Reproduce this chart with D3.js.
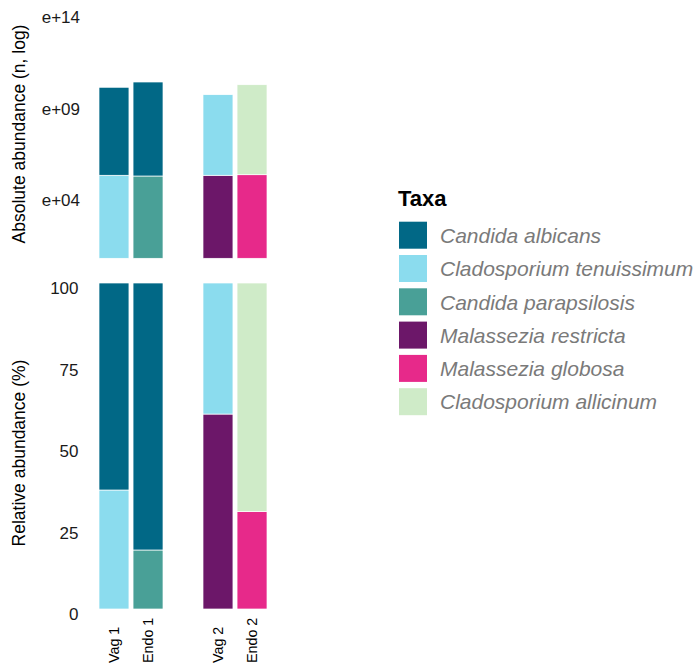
<!DOCTYPE html>
<html>
<head>
<meta charset="utf-8">
<script src="https://cdn.jsdelivr.net/npm/d3@7"></script>
<style>
  html, body { margin: 0; padding: 0; background: #fff; }
  svg { display: block; }
  text { font-family: "Liberation Sans", Arial, Helvetica, sans-serif; }
</style>
</head>
<body>
<svg id="chart" width="700" height="665"></svg>
<script>
// Samples, shown in two facet-like groups
const sampleGroups = [["Vag 1", "Endo 1"], ["Vag 2", "Endo 2"]];
const samples = sampleGroups.flat();

// Taxa in legend order with their fill colours
const taxa = [
  "Candida albicans",
  "Cladosporium tenuissimum",
  "Candida parapsilosis",
  "Malassezia restricta",
  "Malassezia globosa",
  "Cladosporium allicinum"
];
const taxaColors = ["#016886", "#8bdcee", "#49a097", "#6c1769", "#e7298a", "#cfebc8"];

// Two taxa per sample: the lower (stacked first) and the upper one
const lowerTaxon = ["Cladosporium tenuissimum", "Candida parapsilosis", "Malassezia restricta", "Malassezia globosa"];
const upperTaxon = ["Candida albicans", "Candida albicans", "Cladosporium tenuissimum", "Cladosporium allicinum"];

// Absolute abundance (n); stacked on log10 scale
const lowerCount = [3.44e4, 3.14e4, 3.44e4, 3.70e4];
const upperCount = [6.44e4, 1.37e5, 2.54e4, 8.28e4];

// Relative abundance (%)
const lowerPct = [36.5, 18.1, 59.8, 29.9];
const upperPct = [63.5, 81.9, 40.2, 70.1];

// Axis tick values
const absTicks = [4, 9, 14];
const relTicks = [0, 25, 50, 75, 100];

const svg = d3.select("#chart");
const color = d3.scaleOrdinal().domain(taxa).range(taxaColors);

// x positions: one band scale per group
const groupRanges = [[99, 163], [203, 267]];
const groupScales = sampleGroups.map((g, i) =>
  d3.scaleBand().domain(g).range(groupRanges[i]).paddingInner(0.12).paddingOuter(0));
const xPos = s => {
  const sc = groupScales.find(g => g.domain().includes(s));
  return sc(s);
};
const bw = groupScales[0].bandwidth();

// y scales
const yAbs = d3.scaleLinear().domain([0, 14.1]).range([258.3, 258.3 - 14.1 * 18.3]).clamp(true);
const yRel = d3.scaleLinear().domain([0, 100]).range([609, 283]);

// build stacked segments
const absSegs = [], relSegs = [];
samples.forEach((s, i) => {
  const l0 = Math.log10(lowerCount[i]);
  const l1 = Math.log10(upperCount[i]);
  absSegs.push({ sample: s, taxon: lowerTaxon[i], y0: 0, y1: l0 });
  absSegs.push({ sample: s, taxon: upperTaxon[i], y0: l0, y1: l0 + l1 });
  relSegs.push({ sample: s, taxon: lowerTaxon[i], y0: 0, y1: lowerPct[i] });
  relSegs.push({ sample: s, taxon: upperTaxon[i], y0: lowerPct[i], y1: lowerPct[i] + upperPct[i] });
});

function drawBars(segs, y) {
  svg.append("g").selectAll("rect").data(segs).join("rect")
    .attr("x", d => xPos(d.sample))
    .attr("width", bw)
    .attr("y", d => y(d.y1))
    .attr("height", d => y(d.y0) - y(d.y1))
    .attr("fill", d => color(d.taxon))
    .attr("stroke", "#ffffff")
    .attr("stroke-width", 0.7);
}
drawBars(absSegs, yAbs);
drawBars(relSegs, yRel);

// y axes (labels only)
function drawAxis(scale, ticks, fmt, xRight, shift) {
  const g = svg.append("g")
    .attr("transform", `translate(${xRight},0)`)
    .call(d3.axisLeft(scale).tickValues(ticks).tickFormat(fmt).tickSize(0).tickPadding(0));
  g.select(".domain").remove();
  g.selectAll("text")
    .attr("y", shift)
    .attr("dy", "0.35em")
    .attr("fill", "#1a1a1a")
    .style("font-size", "17px")
    .style("font-family", "'Liberation Sans', Arial, sans-serif");
}
drawAxis(yAbs, absTicks, d => "e+" + d3.format("02d")(d), 80, 14.6);
drawAxis(yRel, relTicks, d => String(d), 78.5, 5);

// axis titles
svg.append("text")
  .attr("transform", "translate(25,134) rotate(-90)")
  .attr("text-anchor", "middle")
  .style("font-size", "17.5px")
  .attr("fill", "#000")
  .text("Absolute abundance (n, log)");
svg.append("text")
  .attr("transform", "translate(25,453) rotate(-90)")
  .attr("text-anchor", "middle")
  .style("font-size", "17.5px")
  .attr("fill", "#000")
  .text("Relative abundance (%)");

// sample labels, rotated
svg.append("g").selectAll("text").data(samples).join("text")
  .attr("transform", d => `translate(${xPos(d) + bw / 2},663) rotate(-90)`)
  .attr("text-anchor", "start")
  .attr("dy", "0.35em")
  .style("font-size", "14.3px")
  .attr("fill", "#000")
  .text(d => d);

// legend
const legend = svg.append("g");
legend.append("text")
  .attr("x", 398).attr("y", 206)
  .style("font-size", "22px")
  .style("font-weight", "bold")
  .attr("fill", "#000")
  .text("Taxa");
const items = legend.selectAll("g.item").data(taxa).join("g")
  .attr("class", "item")
  .attr("transform", (d, i) => `translate(399,${221.7 + i * 33.3})`);
items.append("rect")
  .attr("width", 28).attr("height", 27)
  .attr("fill", d => color(d));
items.append("text")
  .attr("x", 41).attr("y", 21.3)
  .style("font-size", "21px")
  .style("font-style", "italic")
  .attr("fill", "#7a7a7a")
  .text(d => d);
</script>
</body>
</html>
